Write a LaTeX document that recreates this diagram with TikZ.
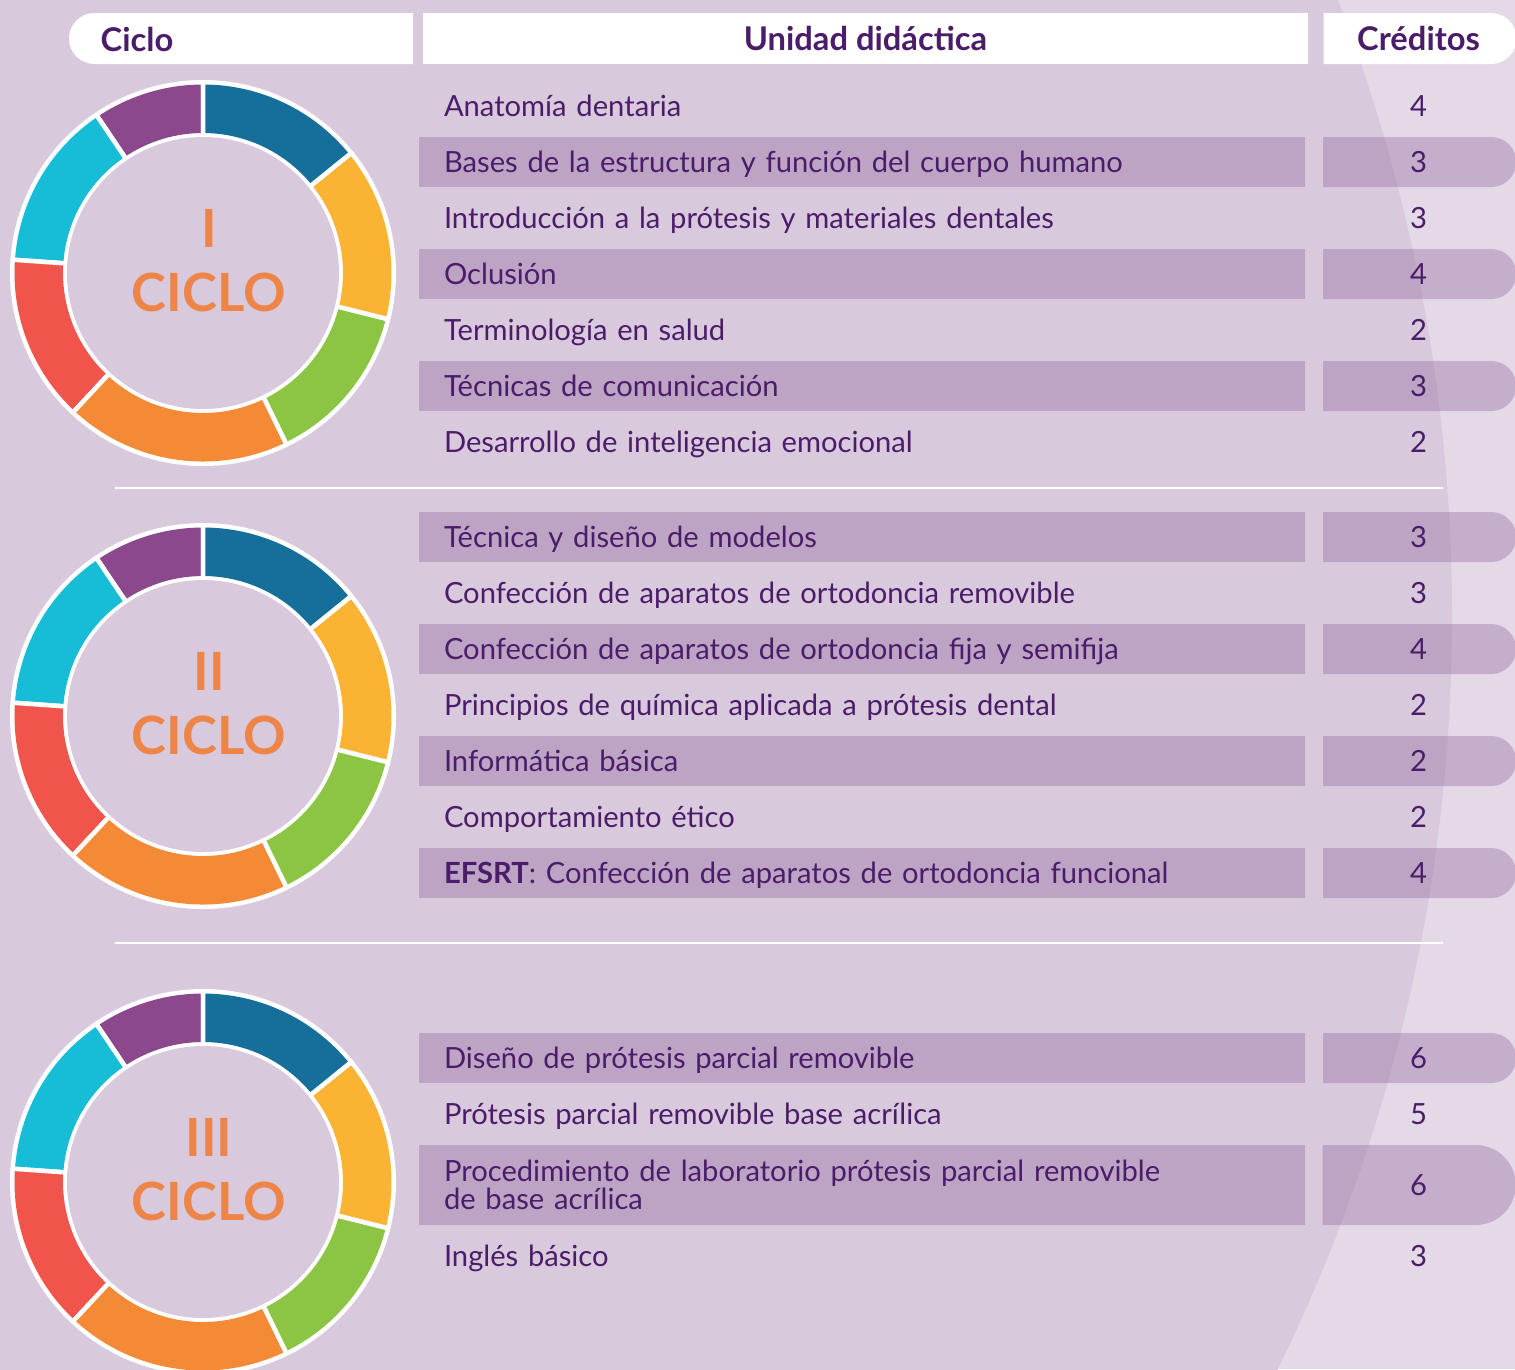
\documentclass[tikz,border=0pt]{standalone}
\usepackage{fontspec}
\setmainfont{Lato}
\usetikzlibrary{shapes.misc, positioning}
\definecolor{bgDark}{RGB}{217,201,221}
\definecolor{bgLight}{RGB}{228,217,231}
\definecolor{rowShade}{RGB}{137,95,155}
\definecolor{textPurple}{RGB}{75,28,105}
\definecolor{cicloOrange}{RGB}{238,133,72}
\definecolor{segBlue}{RGB}{22,110,154}
\definecolor{segYellow}{RGB}{251,179,51}
\definecolor{segGreen}{RGB}{140,197,68}
\definecolor{segOrange}{RGB}{244,138,54}
\definecolor{segRed}{RGB}{240,84,75}
\definecolor{segCyan}{RGB}{23,188,214}
\definecolor{segPurple}{RGB}{140,72,140}

\begin{document}
\begin{tikzpicture}[
    x=0.1mm, y=-0.1mm,
    node distance=0.6mm,
    header/.style={fill=white, minimum height=5.1mm, inner sep=0pt, font=\fontsize{9.3}{10}\selectfont\bfseries, text=textPurple},
    unidad/.style={text width=83.6mm, inner xsep=2.5mm, inner ysep=0.3mm, outer sep=0pt, minimum height=5mm, align=left, text height=8pt, text depth=2.2pt,
        font=\fontsize{8.3}{8.25}\selectfont, text=textPurple},
    shaded/.style={fill=rowShade, fill opacity=0.35, text opacity=1},
    credito/.style={rounded rectangle, rounded rectangle west arc=none, minimum width=19.3mm, minimum height=5mm, inner sep=0pt, font=\fontsize{8.3}{8.25}\selectfont, text=textPurple},
    numeral/.style={font=\fontsize{15}{16}\selectfont\bfseries, text=cicloOrange},
    sepline/.style={draw=white, line width=0.2mm}
]

\useasboundingbox (0,0) rectangle (1515,1369);
\clip (0,0) rectangle (1515,1369);

% background
\fill[bgLight] (0,0) rectangle (1515,1369);
\fill[bgDark] (-259,616) circle[radius=1711];

% header
\node[header, rounded rectangle, rounded rectangle east arc=none, minimum width=34.4mm] (hciclo) at (241,38.5) {};
\node[header, fill=none, anchor=west] (tciclo) at (100,39) {Ciclo};
\node[header, minimum width=88.5mm] (hunidad) at (865.5,38.5) {Unidad didáctica};
\node[header, rounded rectangle, rounded rectangle west arc=none, minimum width=19.3mm] (hcreditos) at (1418.5,38.5) {Créditos};

% rings
\foreach \cy/\num in {273/I, 716/II, 1182/III} {
  \begin{scope}[shift={(203,\cy)}, yscale=-1]
    \fill[white] (0,0) circle[radius=193];
    \foreach \a/\b/\col in {90/124/segPurple, 124/176/segCyan, 176/227/segRed, 227/296/segOrange, 296/346/segGreen, 346/399/segYellow, 399/450/segBlue} {
      \fill[\col] (\a:188.5) arc[start angle=\a, end angle=\b, radius=188.5] -- (\b:140) arc[start angle=\b, end angle=\a, radius=140] -- cycle;
      \draw[white, line width=0.45mm] (\a:135) -- (\a:191) (\b:135) -- (\b:191);
    }
    \fill[bgDark] (0,0) circle[radius=136];
    \node[numeral] (num\num) at (6,45) {\num};
    \node[numeral] (ciclo\num) at (6,-19) {CICLO};
  \end{scope}
}

\coordinate (credx) at (1418.5,0);

% I ciclo
\node[unidad] (r1a) at (862,106) {Anatomía dentaria};
\node[unidad, shaded, below=of r1a] (r1b) {Bases de la estructura y función del cuerpo humano};
\node[unidad, below=of r1b] (r1c) {Introducción a la prótesis y materiales dentales};
\node[unidad, shaded, below=of r1c] (r1d) {Oclusión};
\node[unidad, below=of r1d] (r1e) {Terminología en salud};
\node[unidad, shaded, below=of r1e] (r1f) {Técnicas de comunicación};
\node[unidad, below=of r1f] (r1g) {Desarrollo de inteligencia emocional};

\node[credito] (c1a) at (r1a -| credx) {4};
\node[credito, shaded] (c1b) at (r1b -| credx) {3};
\node[credito] (c1c) at (r1c -| credx) {3};
\node[credito, shaded] (c1d) at (r1d -| credx) {4};
\node[credito] (c1e) at (r1e -| credx) {2};
\node[credito, shaded] (c1f) at (r1f -| credx) {3};
\node[credito] (c1g) at (r1g -| credx) {2};

\draw[sepline] (115,488) -- (1443,488);

% II ciclo
\node[unidad, shaded] (r2a) at (862,537) {Técnica y diseño de modelos};
\node[unidad, below=of r2a] (r2b) {Confección de aparatos de ortodoncia removible};
\node[unidad, shaded, below=of r2b] (r2c) {Confección de aparatos de ortodoncia fija y semifija};
\node[unidad, below=of r2c] (r2d) {Principios de química aplicada a prótesis dental};
\node[unidad, shaded, below=of r2d] (r2e) {Informática básica};
\node[unidad, below=of r2e] (r2f) {Comportamiento ético};
\node[unidad, shaded, below=of r2f] (r2g) {\textbf{EFSRT}: Confección de aparatos de ortodoncia funcional};

\node[credito, shaded] (c2a) at (r2a -| credx) {3};
\node[credito] (c2b) at (r2b -| credx) {3};
\node[credito, shaded] (c2c) at (r2c -| credx) {4};
\node[credito] (c2d) at (r2d -| credx) {2};
\node[credito, shaded] (c2e) at (r2e -| credx) {2};
\node[credito] (c2f) at (r2f -| credx) {2};
\node[credito, shaded] (c2g) at (r2g -| credx) {4};

\draw[sepline] (115,943) -- (1443,943);

% III ciclo
\node[unidad, shaded] (r3a) at (862,1058) {Diseño de prótesis parcial removible};
\node[unidad, below=of r3a] (r3b) {Prótesis parcial removible base acrílica};
\node[unidad, shaded, below=of r3b, text height=, text depth=, minimum height=8mm] (r3c) {Procedimiento de laboratorio prótesis parcial removible\\[-0.1pt]de base acrílica};
\node[unidad, below=of r3c] (r3d) {Inglés básico};

\node[credito, shaded] (c3a) at (r3a -| credx) {6};
\node[credito] (c3b) at (r3b -| credx) {5};
\node[credito, shaded, minimum height=8mm] (c3c) at (r3c -| credx) {6};
\node[credito] (c3d) at (r3d -| credx) {3};

\end{tikzpicture}
\end{document}
